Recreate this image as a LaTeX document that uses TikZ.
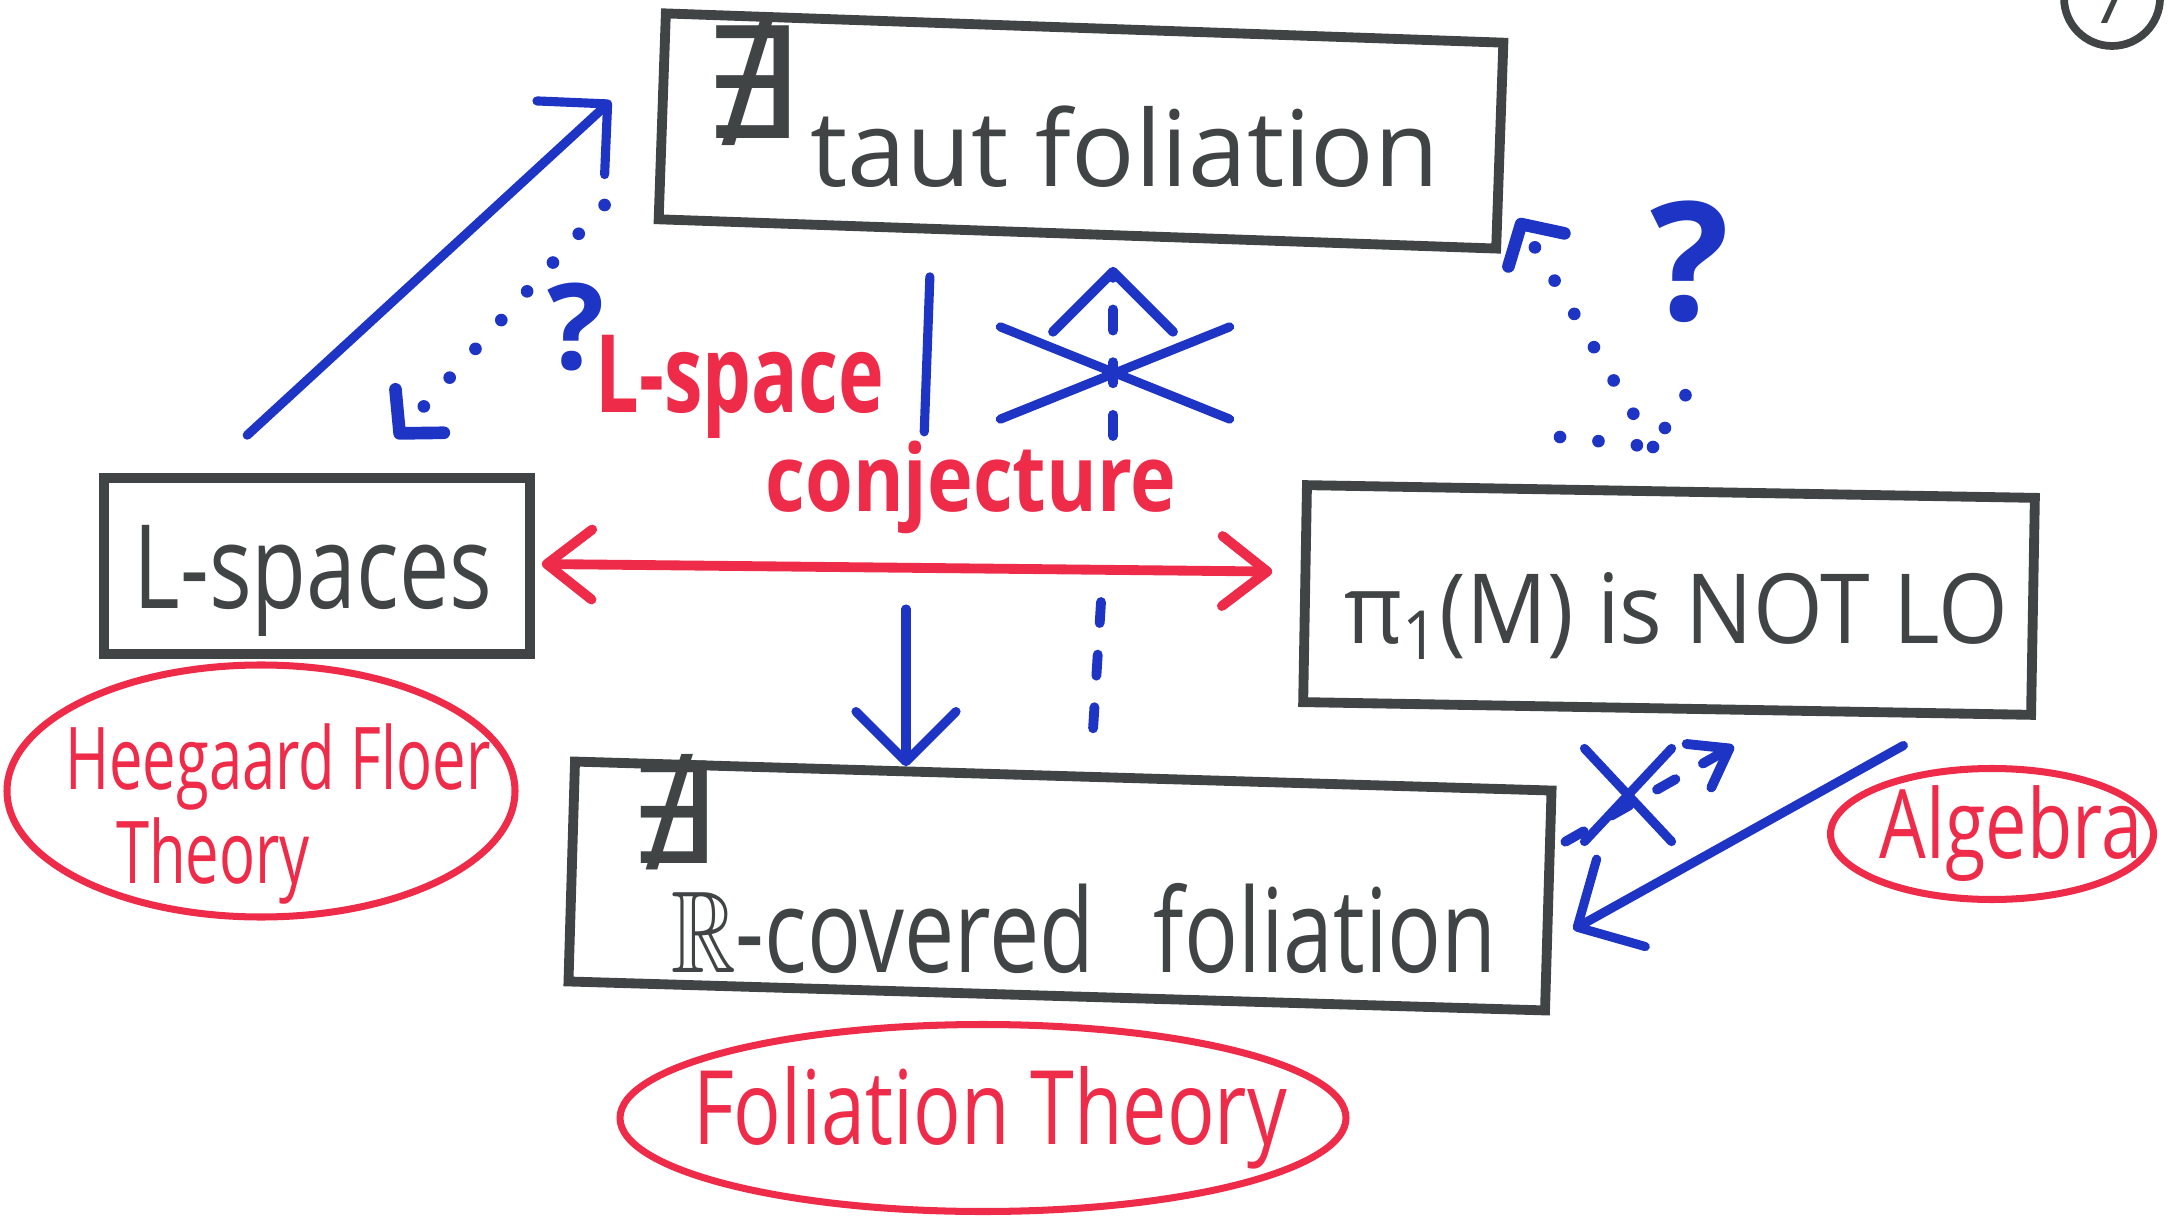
\documentclass[tikz,border=0pt]{standalone}
\usepackage{fontspec}
\setmainfont{Open Sans}
\newfontfamily\existfont{DejaVu Sans}
\usepackage{amssymb}
\usetikzlibrary{arrows.meta, shapes.geometric, shapes.misc}
\definecolor{ink}{RGB}{64,68,68}
\definecolor{marker}{RGB}{30,52,196}
\definecolor{redmarker}{RGB}{238,44,74}

\begin{document}
\begin{tikzpicture}[
    bigbox/.style={rectangle, draw=ink, line width=2.8pt, inner sep=0pt},
    boxtext/.style={text=ink, font=\fontsize{25.5}{30}\selectfont,
                    inner sep=0pt, anchor=base},
    tall/.style={yscale=#1, transform shape},
    notexist/.style={text=ink, font=\existfont\fontsize{44}{44}\selectfont, inner sep=0pt},
    oval/.style={ellipse, draw=redmarker, line width=2pt, inner sep=0pt},
    fieldtext/.style={text=redmarker, inner sep=0pt, align=left},
    redtext/.style={text=redmarker, font=\bfseries\fontsize{22}{26}\selectfont,
                    inner sep=0pt, anchor=base},
    query/.style={text=marker, font=\bfseries\fontsize{34}{34}\selectfont, inner sep=0pt},
    strike/.style={cross out, draw=marker, line width=2.6pt, line cap=round,
                   inner sep=0pt},
    stroke/.style={draw=marker, line width=2.6pt, line cap=round},
    implies/.style={stroke, -{Straight Barb[length=5mm, width=10mm, round]}},
    dashline/.style={stroke, line width=2.8pt, dash pattern=on 6pt off 9pt},
    dashimpl/.style={dashline, -{Straight Barb[length=6mm, width=12mm, round]}},
    dotline/.style={stroke, line width=3.6pt, dash pattern=on 0pt off 11pt},
    dotimpl/.style={dotline, -{Straight Barb[length=3mm, width=6.5mm, round]}},
    redarr/.style={draw=redmarker, line width=2.8pt, line cap=round,
                   {Straight Barb[length=4.5mm, width=7mm, round]}-{Straight Barb[length=4.5mm, width=7mm, round]}},
]
\useasboundingbox (0,0) rectangle (21.72,12.21);

% ─── The four statements ─────────────────────────────────────────
\node[bigbox, rotate=-2, minimum width=8.38cm, minimum height=2.06cm] (taut) at (10.81,10.90) {};
\node[notexist] (tautnot) at (7.50,11.39) {∄};
\node[boxtext, font=\fontsize{30}{36}\selectfont] (tauttxt) at (11.25,10.34) {taut foliation};

\node[bigbox, minimum width=4.26cm, minimum height=1.76cm] (lsp) at (3.17,6.55) {};
\node[boxtext, tall=1.3] (lsptxt) at (3.13,6.12) {L-spaces};

\node[bigbox, rotate=-1, minimum width=7.28cm, minimum height=2.17cm] (pi) at (16.69,6.21) {};
\node[boxtext, tall=1.08] (pitxt) at (16.76,5.77) {π\textsubscript{1}(M) is NOT LO};

\node[bigbox, rotate=-1.7, minimum width=9.77cm, minimum height=2.20cm] (rcov) at (10.60,3.35) {};
\node[notexist, font=\existfont\fontsize{40}{40}\selectfont] (rcovnot) at (6.72,4.09) {∄};
\node[boxtext, tall=1.3] (rcovtxt) at (10.84,2.49) {$\mathbb{R}$-covered\hspace{0.4em} foliation};

% ─── Red: the conjecture and the fields ──────────────────────────
\node[redtext, tall=1.4] (conjA) at (7.40,8.08) {L-space};
\node[redtext, tall=1.2] (conjB) at (9.71,7.09) {conjecture};

\node[oval, minimum width=5.08cm, minimum height=2.52cm,
      label={[fieldtext, font=\fontsize{17}{18.5}\selectfont, tall=1.45, xshift=0.17cm, yshift=-0.16cm]center:{Heegaard Floer\\\hspace*{0.51cm}Theory}}] (hf) at (2.61,4.30) {};
\node[oval, minimum width=3.23cm, minimum height=1.31cm,
      label={[fieldtext, font=\fontsize{21}{24}\selectfont, tall=1.3, xshift=0.19cm]center:Algebra}] (alg) at (19.92,3.87) {};
\node[oval, minimum width=7.26cm, minimum height=1.87cm,
      label={[fieldtext, font=\fontsize{22.5}{27}\selectfont, tall=1.3, xshift=0.07cm]center:Foliation Theory}] (folth) at (9.83,1.03) {};

\draw[redarr] ([shift={(0.07cm,0.02cm)}]lsp.east) -- ([shift={(-0.28cm,0.22cm)}]pi.west);

% ─── Left side: L-spaces and taut foliations ─────────────────────
\draw[implies, shorten <=0.56cm, shorten >=0.63cm] ([xshift=-1.11cm]lsp.north) -- ([yshift=0.58cm]taut.west);
\draw[dotimpl, shorten <=0.79cm, shorten >=0.47cm] ([yshift=-0.30cm]taut.west) -- ([xshift=0.47cm]lsp.north);
\node[query] (qleft) at (5.76,8.94) {?};

\draw[stroke, shorten <=0.38cm] ([xshift=-1.46cm]taut.south) -- ++(-0.07,-1.93);

% ─── Middle: up (crossed out) and down ───────────────────────────
\coordinate (upfoot) at (11.13,7.85);
\draw[dashimpl, shorten >=0.28cm] (upfoot) -- (upfoot |- taut.south);
\node[strike, minimum width=2.2cm, minimum height=0.83cm] (xup) at (11.15,8.48) {};

\coordinate (downtop) at (9.06,6.12);
\draw[implies, shorten >=0.05cm] (downtop) -- (downtop |- rcov.north);
\coordinate (dashtop) at (11.01,6.19);
\draw[dashline, shorten >=0.25cm] (dashtop) -- ([xshift=0.27cm]rcov.north);

% ─── Right side: pi_1 and the two foliations ─────────────────────
\coordinate (vee) at (16.53,7.74);
\coordinate (veeleft) at (15.60,7.84);
\coordinate (veeright) at (17.00,8.49);
\draw[dotline] (veeleft) -- (vee) -- (veeright);
\draw[dotimpl] (vee) -- ([shift={(0.17cm,0.35cm)}]taut.south east);
\node[query, font=\bfseries\fontsize{47}{47}\selectfont] (qright) at (16.90,9.59) {?};

\draw[implies, shorten <=0.66cm, shorten >=0.23cm] ([xshift=2.94cm]pi.south) -- ([yshift=-0.40cm]rcov.east);
\draw[dashimpl, -{Straight Barb[length=3.5mm, width=5mm, round]}, shorten <=0.14cm, shorten >=0.66cm]
  ([yshift=0.52cm]rcov.east) -- ([xshift=1.24cm]pi.south);
\node[strike, minimum width=0.78cm, minimum height=0.84cm] (xright) at (16.28,4.26) {};

% page number, cut by the edge
\node[circle, draw=ink, line width=2.2pt, minimum size=0.96cm, inner sep=0pt,
      text=ink, font=\fontsize{20}{20}\selectfont] (pagenum) at (21.12,12.23) {7};

\end{tikzpicture}
\end{document}
